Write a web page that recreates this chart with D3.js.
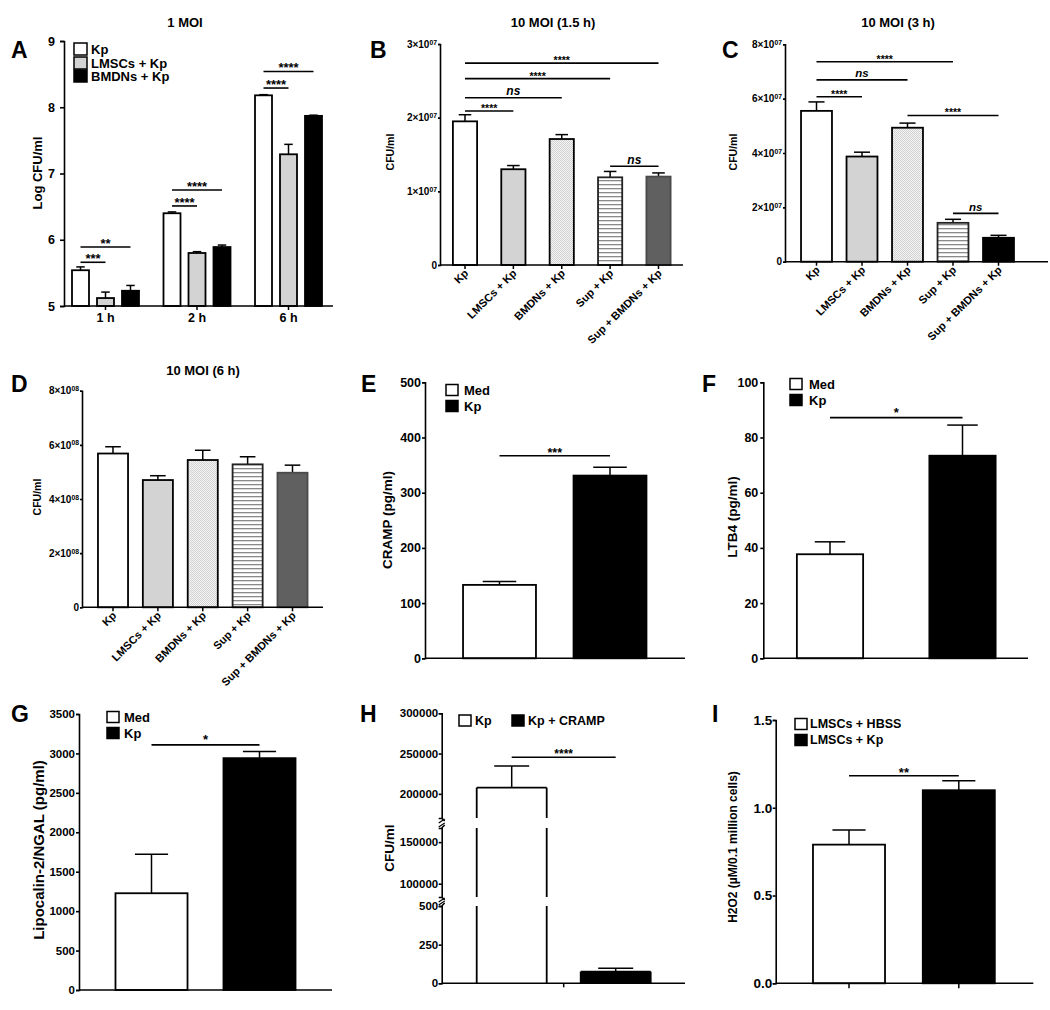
<!DOCTYPE html>
<html><head><meta charset="utf-8">
<script src="https://cdn.jsdelivr.net/npm/d3@7"></script>
<style>
body{margin:0;background:#fff;}
svg{display:block;}
</style></head><body>
<svg id="chart" width="1050" height="1010"></svg>
<script>
// ================= DATA =================
// Panel A: 1 MOI, Log CFU/ml
const aGroups = ["1 h", "2 h", "6 h"];
const aSeries = ["Kp", "LMSCs + Kp", "BMDNs + Kp"];
const aKp = [5.54, 6.40, 8.18];      const aKpErr = [0.05, 0.02, 0.01];
const aLmsc = [5.12, 5.80, 7.29];    const aLmscErr = [0.09, 0.02, 0.15];
const aBmdn = [5.23, 5.89, 7.87];    const aBmdnErr = [0.08, 0.03, 0.01];
const aYTicks = [5, 6, 7, 8, 9];
const aSig = [
  {group: 0, from: 0, to: 1, y: 5.66, label: "***"},
  {group: 0, from: 0, to: 2, y: 5.89, label: "**"},
  {group: 1, from: 0, to: 1, y: 6.51, label: "****"},
  {group: 1, from: 0, to: 2, y: 6.75, label: "****"},
  {group: 2, from: 0, to: 1, y: 8.29, label: "****"},
  {group: 2, from: 0, to: 2, y: 8.54, label: "****"}
];

// Panels B, C, D: treatments
const treatCats = ["Kp", "LMSCs + Kp", "BMDNs + Kp", "Sup + Kp", "Sup + BMDNs + Kp"];
const bMean = [1.95e7, 1.30e7, 1.71e7, 1.19e7, 1.20e7];
const bErr  = [0.09e7, 0.05e7, 0.06e7, 0.08e7, 0.05e7];
const bYTicks = [0, 1e7, 2e7, 3e7];
const bSig = [
  {from: 0, to: 1, y: 2.09e7, label: "****"},
  {from: 0, to: 2, y: 2.27e7, label: "ns"},
  {from: 0, to: 3, y: 2.53e7, label: "****"},
  {from: 0, to: 4, y: 2.74e7, label: "****"},
  {from: 3, to: 4, y: 1.34e7, label: "ns"}
];
const cMean = [5.55e7, 3.87e7, 4.93e7, 1.43e7, 0.88e7];
const cErr  = [0.33e7, 0.16e7, 0.17e7, 0.13e7, 0.09e7];
const cYTicks = [0, 2e7, 4e7, 6e7, 8e7];
const cSig = [
  {from: 0, to: 1, y: 6.07e7, label: "****"},
  {from: 0, to: 2, y: 6.69e7, label: "ns"},
  {from: 0, to: 3, y: 7.36e7, label: "****"},
  {from: 2, to: 4, y: 5.38e7, label: "****"},
  {from: 3, to: 4, y: 1.78e7, label: "ns"}
];
const dMean = [5.68e8, 4.70e8, 5.44e8, 5.28e8, 4.97e8];
const dErr  = [0.25e8, 0.16e8, 0.36e8, 0.28e8, 0.28e8];
const dYTicks = [0, 2e8, 4e8, 6e8, 8e8];

// Panel E: CRAMP
const medKpCats = ["Med", "Kp"];
const eMean = [133, 331];  const eErr = [6, 15];
const eYTicks = [0, 100, 200, 300, 400, 500];
const eSig = [{from: 0, to: 1, y: 367, label: "***"}];
// Panel F: LTB4
const fMean = [37.7, 73.4]; const fErr = [4.5, 11.1];
const fYTicks = [0, 20, 40, 60, 80, 100];
const fSig = [{from: 0, to: 1, y: 87.2, label: "*"}];
// Panel G: Lipocalin-2/NGAL
const gMean = [1227, 2940]; const gErr = [495, 84];
const gYTicks = [0, 500, 1000, 1500, 2000, 2500, 3000, 3500];
const gSig = [{from: 0, to: 1, y: 3109, label: "*"}];
// Panel H: CFU/ml with CRAMP (broken axis)
const hCats = ["Kp", "Kp + CRAMP"];
const hMean = [207700, 75]; const hErr = [26900, 22];
const hYTicks = [0, 250, 500, 100000, 150000, 200000, 250000, 300000];
const hSig = [{from: 0, to: 1, y: 245400, label: "****"}];
// Panel I: H2O2
const iCats = ["LMSCs + HBSS", "LMSCs + Kp"];
const iMean = [0.79, 1.10]; const iErr = [0.083, 0.054];
const iYTicks = [0, 0.5, 1.0, 1.5];
const iSig = [{from: 0, to: 1, y: 1.182, label: "**"}];

// ================= DRAWING =================
const FONT = '"Liberation Sans", Arial, Helvetica, sans-serif';
const svg = d3.select("#chart").attr("font-family", FONT).attr("font-weight", "bold");
svg.append("rect").attr("width", 1050).attr("height", 1010).attr("fill", "#fff");
const defs = svg.append("defs");
const stp = defs.append("pattern").attr("id", "stipple").attr("patternUnits", "userSpaceOnUse").attr("width", 2).attr("height", 2);
stp.append("rect").attr("width", 2).attr("height", 2).attr("fill", "#f4f4f4");
stp.append("rect").attr("width", 1).attr("height", 1).attr("fill", "#d2d2d2");
stp.append("rect").attr("x", 1).attr("y", 1).attr("width", 1).attr("height", 1).attr("fill", "#d2d2d2");
const hl = defs.append("pattern").attr("id", "hlines").attr("patternUnits", "userSpaceOnUse").attr("width", 4).attr("height", 4);
hl.append("rect").attr("width", 4).attr("height", 4).attr("fill", "#fff");
hl.append("rect").attr("width", 4).attr("height", 1.3).attr("fill", "#8a8a8a");

const S_WHITE = {fill: "#fff", stroke: "#000"};
const S_LMSC = {fill: "#d3d3d3", stroke: "#000"};
const S_BMDN = {fill: "url(#stipple)", stroke: "#000"};
const S_SUP = {fill: "url(#hlines)", stroke: "#222"};
const S_DARK = {fill: "#606060", stroke: "#4a4a4a"};
const S_BLACK = {fill: "#000", stroke: "#000"};

function band(cats, c0, cN, frac) {
  const step = (cN - c0) / (cats.length - 1);
  return d3.scaleBand().domain(cats).range([c0 - step / 2, cN + step / 2])
    .paddingInner(1 - frac).paddingOuter((1 - frac) / 2);
}
function text(x, y, s, fs, anchor, opts) {
  const t = svg.append("text").attr("x", x).attr("y", y).attr("font-size", fs)
    .attr("text-anchor", anchor || "middle").attr("fill", "#000").text(s);
  if (opts && opts.italic) t.attr("font-style", "italic");
  return t;
}
function letter(x, y, s) { text(x, y, s, 23, "start"); }
function yLabel(x, y, s, fs) {
  svg.append("text").attr("transform", `translate(${x},${y}) rotate(-90)`)
    .attr("text-anchor", "middle").attr("dominant-baseline", "central")
    .attr("font-size", fs).attr("fill", "#000").text(s);
}
function sciLabels(g) {
  g.selectAll(".tick text").each(function(d) {
    const t = d3.select(this);
    t.text(null);
    if (d === 0) { t.text("0"); return; }
    const e = Math.floor(Math.log10(d) + 1e-9);
    const m = Math.round(d / Math.pow(10, e));
    t.append("tspan").text(m + "×10");
    t.append("tspan").attr("dy", "-0.45em").attr("font-size", "0.68em").text(String(e).padStart(2, "0"));
  });
}
function yAxis(y, ax, ticks, o) {
  const a = d3.axisLeft(y).tickValues(ticks).tickSizeOuter(0).tickSize(o.ts).tickPadding(o.tp);
  if (o.fmt) a.tickFormat(o.fmt);
  const g = svg.append("g").attr("transform", `translate(${ax},0)`).call(a);
  g.attr("font-family", FONT).attr("font-size", o.fs).attr("font-weight", "bold");
  g.selectAll("path,line").attr("stroke", "#000").attr("stroke-width", 1.6);
  g.selectAll("text").attr("fill", "#000");
  if (o.sci) sciLabels(g);
  return g;
}
function hLine(x0, x1, y) {
  svg.append("line").attr("x1", x0).attr("x2", x1).attr("y1", y).attr("y2", y)
    .attr("stroke", "#000").attr("stroke-width", 1.6);
}
function xTicks(x, yBase, len, labels) {
  const g = svg.append("g").attr("transform", `translate(0,${yBase})`)
    .call(d3.axisBottom(x).tickSize(len).tickSizeOuter(0).tickPadding(3));
  g.select(".domain").remove();
  g.selectAll("line").attr("stroke", "#000").attr("stroke-width", 1.5);
  g.attr("font-family", FONT).attr("font-weight", "bold");
  if (!labels) g.selectAll("text").remove();
  else g.selectAll("text").attr("font-size", labels).attr("fill", "#000");
  return g;
}
function rotLabels(x, yBase, fs) {
  x.domain().forEach(c => {
    const cx = x(c) + x.bandwidth() / 2;
    svg.append("text").attr("transform", `translate(${cx + 4},${yBase + 9}) rotate(-45)`)
      .attr("text-anchor", "end").attr("font-size", fs).attr("fill", "#000").text(c);
  });
}
function bars(cats, mean, err, xPos, bw, y, styles, capFrac, sw) {
  const base = y(y.domain()[0]);
  cats.forEach((c, i) => {
    const x0 = xPos(i), cx = x0 + bw / 2, cw = bw * capFrac;
    const yt = y(mean[i]), ye = y(mean[i] + err[i]);
    svg.append("line").attr("x1", cx).attr("x2", cx).attr("y1", yt).attr("y2", ye)
      .attr("stroke", "#000").attr("stroke-width", 1.5);
    svg.append("line").attr("x1", cx - cw / 2).attr("x2", cx + cw / 2).attr("y1", ye).attr("y2", ye)
      .attr("stroke", "#000").attr("stroke-width", 1.5);
    svg.append("rect").attr("x", x0).attr("y", yt).attr("width", bw).attr("height", base - yt)
      .attr("fill", styles[i].fill).attr("stroke", styles[i].stroke).attr("stroke-width", sw || 1.8);
  });
}
function sig(list, cxOf, y, starFs, nsFs) {
  list.forEach(s => {
    const x0 = cxOf(s, s.from), x1 = cxOf(s, s.to), yy = y(s.y);
    hLine(x0, x1, yy);
    if (s.label === "ns") text((x0 + x1) / 2, yy - 2.5, "ns", nsFs, "middle", {italic: true});
    else text((x0 + x1) / 2, yy + (s.label.length === 1 ? -1 : 1), s.label, starFs, "middle");
  });
}
function legend(items, x, ys, fs, bw, bh, tx) {
  items.forEach((it, i) => {
    svg.append("rect").attr("x", x).attr("y", ys[i] - bh / 2).attr("width", bw).attr("height", bh)
      .attr("fill", it.fill).attr("stroke", "#000").attr("stroke-width", 1.5);
    svg.append("text").attr("x", tx).attr("y", ys[i]).attr("dominant-baseline", "central")
      .attr("font-size", fs).attr("fill", "#000").text(it.label);
  });
}

// ---------- Panel A ----------
{
  const y = d3.scaleLinear().domain([5, 9]).range([306, 41]);
  const xg = band(aGroups, 105.5, 288.5, 75 / 91.5);
  const xs = d3.scaleBand().domain(aSeries).range([0, xg.bandwidth()]).paddingInner(0.32).paddingOuter(0.16);
  const means = [aKp, aLmsc, aBmdn], errs = [aKpErr, aLmscErr, aBmdnErr];
  const sty = [S_WHITE, S_LMSC, S_BLACK];
  aSeries.forEach((s, si) => {
    bars(aGroups, means[si], errs[si], i => xg(aGroups[i]) + xs(s), xs.bandwidth(), y,
      aGroups.map(() => sty[si]), 0.5, 1.8);
  });
  yAxis(y, 64, aYTicks, {fs: 12.5, ts: 4, tp: 5, fmt: d3.format("d")});
  hLine(64, 333, 306);
  xTicks(xg, 306, 4, 12.5);
  sig(aSig, (s, k) => xg(aGroups[s.group]) + xs(aSeries[k]) + xs.bandwidth() / 2, y, 13, 12);
  legend(aSeries.map((s, i) => ({label: s, fill: sty[i].fill})), 74, [49, 63, 76], 13, 13, 12, 91);
  text(185, 27, "1 MOI", 13);
  letter(11, 58, "A");
  yLabel(37, 173, "Log CFU/ml", 13);
}

// ---------- Panels B, C, D ----------
function treatPanel(cfg) {
  const y = d3.scaleLinear().domain(cfg.yDomain).range(cfg.yRange);
  const x = band(treatCats, cfg.c0, cfg.cN, cfg.frac);
  bars(treatCats, cfg.mean, cfg.err, i => x(treatCats[i]), x.bandwidth(), y, cfg.styles, 0.52, 1.8);
  yAxis(y, cfg.ax, cfg.ticks, {fs: 10, ts: 2, tp: 1, sci: true});
  hLine(cfg.ax, cfg.axEnd, cfg.yRange[0]);
  xTicks(x, cfg.yRange[0], 4, null);
  rotLabels(x, cfg.yRange[0], 11);
  if (cfg.sig) sig(cfg.sig, (s, k) => x(treatCats[k]) + x.bandwidth() / 2, y, 10.5, cfg.nsFs);
  text(cfg.title[0], cfg.title[1], cfg.title[2], 13);
  letter(cfg.letter[0], cfg.letter[1], cfg.letter[2]);
  yLabel(cfg.ylab[0], cfg.ylab[1], "CFU/ml", 10.5);
}
treatPanel({yDomain: [0, 3e7], yRange: [265, 44], c0: 465, cN: 658.5, frac: 0.5, ax: 440, axEnd: 683,
  mean: bMean, err: bErr, ticks: bYTicks, sig: bSig, nsFs: 12,
  styles: [S_WHITE, S_LMSC, S_BMDN, S_SUP, S_DARK],
  title: [553, 27, "10 MOI (1.5 h)"], letter: [370, 58, "B"], ylab: [390, 152]});
treatPanel({yDomain: [0, 8e7], yRange: [261.7, 44.3], c0: 816.5, cN: 998.5, frac: 0.68, ax: 785, axEnd: 1048,
  mean: cMean, err: cErr, ticks: cYTicks, sig: cSig, nsFs: 11.5,
  styles: [S_WHITE, S_LMSC, S_BMDN, S_SUP, S_BLACK],
  title: [898, 27, "10 MOI (3 h)"], letter: [722, 58, "C"], ylab: [733, 152]});
treatPanel({yDomain: [0, 8e8], yRange: [607.3, 390.7], c0: 113, cN: 292.5, frac: 0.67, ax: 82, axEnd: 323,
  mean: dMean, err: dErr, ticks: dYTicks, sig: null, nsFs: 12,
  styles: [S_WHITE, S_LMSC, S_BMDN, S_SUP, S_DARK],
  title: [203, 375, "10 MOI (6 h)"], letter: [11, 392, "D"], ylab: [37, 497]});

// ---------- Panels E, F, G, I (two bars) ----------
function twoPanel(cfg) {
  const y = d3.scaleLinear().domain(cfg.yDomain).range(cfg.yRange);
  const x = band(cfg.cats, cfg.c0, cfg.cN, cfg.frac);
  bars(cfg.cats, cfg.mean, cfg.err, i => x(cfg.cats[i]), x.bandwidth(), y, [S_WHITE, S_BLACK], 0.46, 1.8);
  yAxis(y, cfg.ax, cfg.ticks, {fs: cfg.tfs, ts: 3, tp: cfg.tp, fmt: cfg.fmt});
  hLine(cfg.ax, cfg.axEnd, cfg.yRange[0]);
  if (cfg.xt) xTicks(x, cfg.yRange[0], 5, null);
  sig(cfg.sig, (s, k) => x(cfg.cats[k]) + x.bandwidth() / 2, y, cfg.sfs, 12);
  legend(cfg.cats.map((c, i) => ({label: c, fill: i === 0 ? "#fff" : "#000"})),
    cfg.leg[0], cfg.leg[1], cfg.lfs, 12, 11, cfg.leg[2]);
  letter(cfg.letter[0], cfg.letter[1], cfg.letter[2]);
  yLabel(cfg.ylab[0], cfg.ylab[1], cfg.ylab[2], cfg.ylab[3]);
}
twoPanel({cats: medKpCats, mean: eMean, err: eErr, yDomain: [0, 500], yRange: [658.3, 382.3],
  c0: 499.5, cN: 610, frac: 0.66, ax: 425, axEnd: 685, ticks: eYTicks, tfs: 12.5, tp: 1, fmt: d3.format("d"),
  sig: eSig, sfs: 12.5, leg: [446, [390, 406], 464], lfs: 13,
  letter: [361, 392, "E"], ylab: [387, 520, "CRAMP (pg/ml)", 13.5]});
twoPanel({cats: medKpCats, mean: fMean, err: fErr, yDomain: [0, 100], yRange: [658.3, 382.3],
  c0: 830, cN: 962.5, frac: 0.5, ax: 763.3, axEnd: 1028, ticks: fYTicks, tfs: 12.5, tp: 2, fmt: d3.format("d"),
  sig: fSig, sfs: 13, leg: [790, [384, 400], 809], lfs: 13,
  letter: [702, 392, "F"], ylab: [732, 517, "LTB4 (pg/ml)", 13.5]});
twoPanel({cats: medKpCats, mean: gMean, err: gErr, yDomain: [0, 3500], yRange: [990, 714],
  c0: 151.5, cN: 259.5, frac: 0.667, ax: 79, axEnd: 332, ticks: gYTicks, tfs: 11.5, tp: 1, fmt: d3.format("d"),
  sig: gSig, sfs: 13, leg: [107, [717, 733], 124], lfs: 13,
  letter: [11, 722, "G"], ylab: [38, 850, "Lipocalin-2/NGAL (pg/ml)", 15]});
twoPanel({cats: iCats, mean: iMean, err: iErr, yDomain: [0, 1.5], yRange: [983.3, 720],
  c0: 849, cN: 958.8, frac: 0.656, ax: 775.7, axEnd: 1033.3, ticks: iYTicks, tfs: 13.5, tp: 0.5, fmt: d3.format(".1f"),
  sig: iSig, sfs: 13, leg: [795, [724, 740], 810], lfs: 12.5, xt: true,
  letter: [712, 722, "I"], ylab: [733, 847, "H2O2 (µM/0.1 million cells)", 12]});

// ---------- Panel H (broken axis) ----------
{
  const segs = [
    d3.scaleLinear().domain([0, 500]).range([983.3, 906]),
    d3.scaleLinear().domain([84000, 167000]).range([897, 828]),
    d3.scaleLinear().domain([170000, 300000]).range([818, 713.3])
  ];
  const segOf = v => v <= 500 ? 0 : (v <= 167000 ? 1 : 2);
  const yH = v => segs[segOf(v)](v);
  const ax = 441.7, base = 983.3;
  const x = band(hCats, 511.7, 615.7, 0.673);
  const bw = x.bandwidth();
  hCats.forEach((c, i) => {
    const x0 = x(c), cx = x0 + bw / 2, cw = bw * 0.5;
    const top = segOf(hMean[i]);
    const ye = yH(hMean[i] + hErr[i]), yt = yH(hMean[i]);
    svg.append("line").attr("x1", cx).attr("x2", cx).attr("y1", yt).attr("y2", ye).attr("stroke", "#000").attr("stroke-width", 1.5);
    svg.append("line").attr("x1", cx - cw / 2).attr("x2", cx + cw / 2).attr("y1", ye).attr("y2", ye).attr("stroke", "#000").attr("stroke-width", 1.5);
    const fill = i === 0 ? "#fff" : "#000";
    for (let s = 0; s <= top; s++) {
      const yb = segs[s].range()[0];
      const ytop = s === top ? yt : segs[s].range()[1];
      svg.append("rect").attr("x", x0).attr("y", ytop).attr("width", bw).attr("height", yb - ytop).attr("fill", fill);
      [x0, x0 + bw].forEach(xx => svg.append("line").attr("x1", xx).attr("x2", xx).attr("y1", ytop).attr("y2", yb)
        .attr("stroke", "#000").attr("stroke-width", 1.8));
      if (s === top) svg.append("line").attr("x1", x0).attr("x2", x0 + bw).attr("y1", ytop).attr("y2", ytop)
        .attr("stroke", "#000").attr("stroke-width", 1.8);
    }
  });
  segs.forEach(sc => {
    const tv = hYTicks.filter(t => t >= sc.domain()[0] && t <= sc.domain()[1]);
    yAxis(sc, ax, tv, {fs: 11.5, ts: 3, tp: 0.5, fmt: d3.format("d")});
  });
  [[818, 828], [897, 906]].forEach(([a, b]) => {
    svg.append("path").attr("d", `M${ax},${a} L${ax + 3},${a + 3} M${ax + 3},${b - 3} L${ax},${b}`)
      .attr("fill", "none").attr("stroke", "#000").attr("stroke-width", 1.5);
    svg.append("path").attr("d", `M${ax - 3},${a + 5} L${ax + 3},${a + 1} M${ax - 3},${b - 1} L${ax + 3},${b - 5}`)
      .attr("fill", "none").attr("stroke", "#000").attr("stroke-width", 1.2);
  });
  hLine(ax, 685, base);
  const mid = (x.range()[0] + x.range()[1]) / 2;
  svg.append("line").attr("x1", mid).attr("x2", mid).attr("y1", base).attr("y2", base + 4).attr("stroke", "#000").attr("stroke-width", 1.5);
  sig(hSig, (s, k) => x(hCats[k]) + bw / 2, yH, 12, 12);
  [[459, 475], [512, 528]].forEach(([bx, tx], i) => {
    svg.append("rect").attr("x", bx).attr("y", 715).attr("width", 12).attr("height", 11)
      .attr("fill", i === 0 ? "#fff" : "#000").attr("stroke", "#000").attr("stroke-width", 1.5);
    svg.append("text").attr("x", tx).attr("y", 720.5).attr("dominant-baseline", "central")
      .attr("font-size", 12.5).attr("fill", "#000").text(hCats[i]);
  });
  letter(360, 722, "H");
  yLabel(389, 848, "CFU/ml", 13.5);
}
</script>
</body></html>
